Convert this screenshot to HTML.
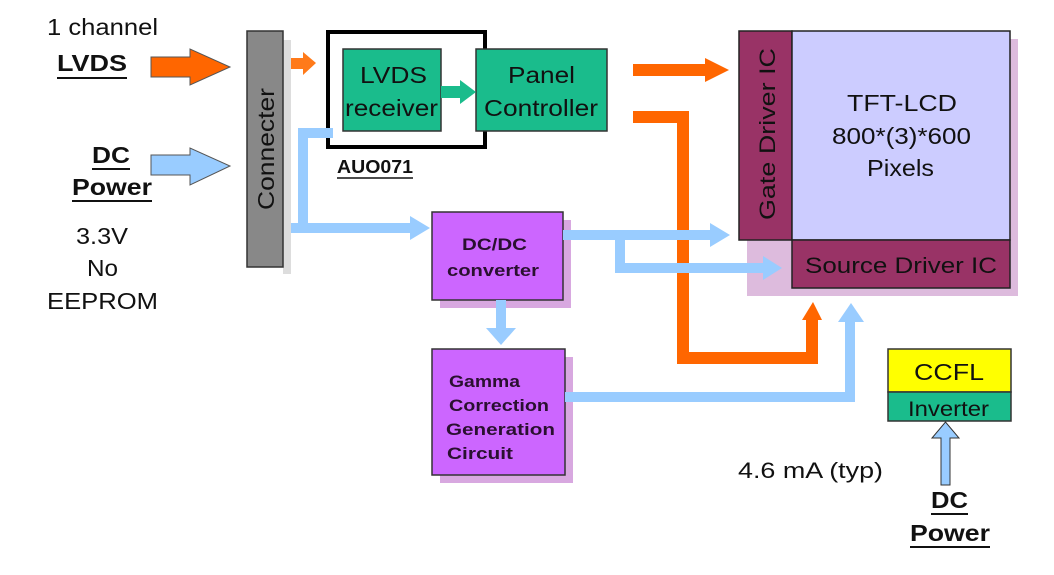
<!DOCTYPE html>
<html><head><meta charset="utf-8"><style>
html,body{margin:0;padding:0;background:#fff;width:1054px;height:575px;overflow:hidden}
svg{display:block}
text{font-family:"Liberation Sans",Arial,sans-serif;fill:#111}
</style></head><body>
<svg width="1054" height="575" viewBox="0 0 1054 575">
<!-- left labels -->
<text x="47" y="35" font-size="23" textLength="111" lengthAdjust="spacingAndGlyphs">1 channel</text>
<text x="57" y="71" font-size="23" font-weight="bold" textLength="70" lengthAdjust="spacingAndGlyphs">LVDS</text>
<line x1="57" y1="78" x2="127" y2="78" stroke="#111" stroke-width="2"/>
<text x="92" y="163" font-size="23" font-weight="bold" textLength="38" lengthAdjust="spacingAndGlyphs">DC</text>
<line x1="92" y1="169" x2="130" y2="169" stroke="#111" stroke-width="2"/>
<text x="72" y="195" font-size="23" font-weight="bold" textLength="80" lengthAdjust="spacingAndGlyphs">Power</text>
<line x1="72" y1="201" x2="152" y2="201" stroke="#111" stroke-width="2"/>
<text x="76" y="244" font-size="23" textLength="52" lengthAdjust="spacingAndGlyphs">3.3V</text>
<text x="87" y="276" font-size="23" textLength="31" lengthAdjust="spacingAndGlyphs">No</text>
<text x="47" y="309" font-size="23" textLength="111" lengthAdjust="spacingAndGlyphs">EEPROM</text>
<!-- big input arrows -->
<polygon points="151,57 190,57 190,49 230,67 190,85 190,77 151,77" fill="#ff6600" stroke="#555" stroke-width="1"/>
<polygon points="151,155 190,155 190,148 230,166 190,185 190,175 151,175" fill="#99ccff" stroke="#555" stroke-width="1"/>
<!-- connecter -->
<rect x="283" y="40" width="8" height="234" fill="#ddd"/>
<rect x="247" y="31" width="36" height="236" fill="#888" stroke="#333" stroke-width="1.5"/>
<text transform="translate(274,210) rotate(-90)" font-size="23" textLength="122" lengthAdjust="spacingAndGlyphs">Connecter</text>
<!-- small orange arrow -->
<polygon points="291,58 303,58 303,52 316,63 303,75 303,69 291,69" fill="#ff7a1a"/>
<!-- AUO071 box -->
<rect x="328" y="32" width="157" height="115" fill="#fff" stroke="#000" stroke-width="4"/>
<rect x="343" y="49" width="98" height="82" fill="#1abc8c" stroke="#333" stroke-width="1.5"/>
<text x="360" y="83" font-size="23" textLength="67" lengthAdjust="spacingAndGlyphs">LVDS</text>
<text x="345" y="116" font-size="23" textLength="93" lengthAdjust="spacingAndGlyphs">receiver</text>
<rect x="476" y="49" width="131" height="82" fill="#1abc8c" stroke="#333" stroke-width="1.5"/>
<text x="508" y="83" font-size="23" textLength="67" lengthAdjust="spacingAndGlyphs">Panel</text>
<text x="484" y="116" font-size="23" textLength="114" lengthAdjust="spacingAndGlyphs">Controller</text>
<polygon points="441,86 460,86 460,80 476,92 460,104 460,98 441,98" fill="#1abc8c"/>
<text x="337" y="173" font-size="18" font-weight="bold" textLength="76" lengthAdjust="spacingAndGlyphs">AUO071</text>
<line x1="337" y1="178" x2="413" y2="178" stroke="#111" stroke-width="1.5"/>
<!-- blue from connecter -->
<path d="M291,228 L412,228 M303,228 L303,133 L333,133" stroke="#99ccff" stroke-width="10" fill="none"/>
<polygon points="410,216 430,228 410,240" fill="#99ccff"/>
<!-- DC/DC -->
<rect x="440" y="220" width="131" height="88" fill="#d8a8e0"/>
<rect x="432" y="212" width="131" height="88" fill="#cc66ff" stroke="#333" stroke-width="1.5"/>
<text x="462" y="250" font-size="17" font-weight="bold" textLength="65" lengthAdjust="spacingAndGlyphs" style="fill:#2a1030">DC/DC</text>
<text x="447" y="276" font-size="17" font-weight="bold" textLength="92" lengthAdjust="spacingAndGlyphs" style="fill:#2a1030">converter</text>
<!-- down arrow -->
<rect x="496" y="300" width="10" height="30" fill="#99ccff"/>
<polygon points="486,328 516,328 501,345" fill="#99ccff"/>
<!-- Gamma -->
<rect x="440" y="357" width="133" height="126" fill="#d8a8e0"/>
<rect x="432" y="349" width="133" height="126" fill="#cc66ff" stroke="#333" stroke-width="1.5"/>
<text x="449" y="387" font-size="17" font-weight="bold" textLength="71" lengthAdjust="spacingAndGlyphs" style="fill:#2a1030">Gamma</text>
<text x="449" y="411" font-size="17" font-weight="bold" textLength="100" lengthAdjust="spacingAndGlyphs" style="fill:#2a1030">Correction</text>
<text x="446" y="435" font-size="17" font-weight="bold" textLength="109" lengthAdjust="spacingAndGlyphs" style="fill:#2a1030">Generation</text>
<text x="447" y="459" font-size="17" font-weight="bold" textLength="66" lengthAdjust="spacingAndGlyphs" style="fill:#2a1030">Circuit</text>
<!-- LCD panel -->
<rect x="747" y="39" width="271" height="257" fill="#ddbbdd"/>
<rect x="739" y="31" width="53" height="209" fill="#993366" stroke="#222" stroke-width="1.5"/>
<rect x="792" y="31" width="218" height="209" fill="#ccccff" stroke="#222" stroke-width="1.5"/>
<rect x="792" y="240" width="218" height="48" fill="#993366" stroke="#222" stroke-width="1.5"/>
<text transform="translate(775,220) rotate(-90)" font-size="22" textLength="172" lengthAdjust="spacingAndGlyphs">Gate Driver IC</text>
<text x="847" y="111" font-size="23" textLength="110" lengthAdjust="spacingAndGlyphs">TFT-LCD</text>
<text x="832" y="144" font-size="23" textLength="139" lengthAdjust="spacingAndGlyphs">800*(3)*600</text>
<text x="867" y="176" font-size="23" textLength="67" lengthAdjust="spacingAndGlyphs">Pixels</text>
<text x="805" y="273" font-size="22" textLength="192" lengthAdjust="spacingAndGlyphs">Source Driver IC</text>
<!-- orange connectors -->
<rect x="633" y="64" width="75" height="12" fill="#ff6600"/>
<polygon points="705,58 729,70 705,82" fill="#ff6600"/>
<path d="M633,117 L683,117 L683,358 L812,358 L812,318" stroke="#ff6600" stroke-width="12" fill="none"/>
<polygon points="802,320 822,320 813,302" fill="#ff6600"/>
<!-- blue from DC/DC -->
<path d="M563,235 L712,235 M620,235 L620,268 L765,268" stroke="#99ccff" stroke-width="10" fill="none"/>
<polygon points="710,223 730,235 710,247" fill="#99ccff"/>
<polygon points="763,256 782,268 763,280" fill="#99ccff"/>
<!-- gamma to source -->
<path d="M565,397 L850,397 L850,320" stroke="#99ccff" stroke-width="10" fill="none"/>
<polygon points="838,322 864,322 851,303" fill="#99ccff"/>
<!-- CCFL -->
<rect x="888" y="349" width="123" height="43" fill="#ffff00" stroke="#333" stroke-width="1.5"/>
<text x="914" y="380" font-size="23" textLength="70" lengthAdjust="spacingAndGlyphs">CCFL</text>
<rect x="888" y="392" width="123" height="29" fill="#1abc8c" stroke="#333" stroke-width="1.5"/>
<text x="908" y="416" font-size="21" textLength="81" lengthAdjust="spacingAndGlyphs">Inverter</text>
<polygon points="941,485 950,485 950,438 959,438 945.5,422 932,438 941,438" fill="#99ccff" stroke="#333" stroke-width="1"/>
<text x="738" y="478" font-size="22" textLength="145" lengthAdjust="spacingAndGlyphs">4.6 mA (typ)</text>
<text x="931" y="508" font-size="23" font-weight="bold" textLength="37" lengthAdjust="spacingAndGlyphs">DC</text>
<line x1="931" y1="514" x2="968" y2="514" stroke="#111" stroke-width="2"/>
<text x="910" y="541" font-size="23" font-weight="bold" textLength="80" lengthAdjust="spacingAndGlyphs">Power</text>
<line x1="910" y1="547" x2="990" y2="547" stroke="#111" stroke-width="2"/>
</svg>
</body></html>
